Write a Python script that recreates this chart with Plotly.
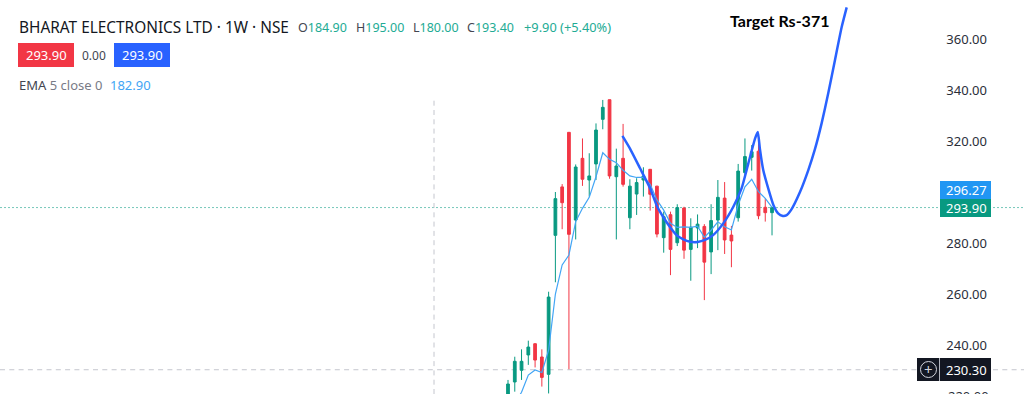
import plotly.graph_objects as go

# ---- data ----
candle_index = list(range(40))
opens = [220.5,225.5,230.1,236.1,240.5,235.3,228.5,283.0,302.0,323.4,289.0,313.2,304.7,311.0,328.5,336.2,306.0,313.2,289.9,299.2,
         304.7,308.9,302.3,282.1,291.1,280.1,293.7,277.5,285.9,286.5,276.5,289.0,297.6,283.1,289.9,307.6,313.6,316.0,294.0,291.9]
highs = [226.3,235.4,238.3,241.7,240.7,238.3,260.9,300.0,303.1,323.4,310.8,321.0,315.2,326.9,336.1,336.2,317.0,326.7,305.0,305.4,
         309.7,309.0,302.4,292.3,292.3,295.2,294.2,289.7,291.2,287.4,295.2,304.7,303.9,286.7,311.0,321.0,318.4,323.0,297.5,294.2]
lows = [218.0,221.7,226.3,232.2,231.2,223.7,221.0,264.6,285.4,230.5,281.4,302.4,298.2,304.7,324.6,305.2,281.4,302.1,285.4,291.0,
        298.2,292.7,282.2,276.2,267.4,278.8,273.8,265.2,278.0,257.6,267.8,277.2,275.7,270.5,288.4,306.7,308.4,289.3,288.4,283.0]
closes = [224.7,233.6,233.6,239.2,234.1,227.3,258.8,297.4,295.8,283.4,309.8,305.0,306.3,324.3,333.2,306.3,310.2,303.0,302.3,303.7,
          306.3,299.1,283.5,290.3,277.5,293.9,277.2,286.2,287.4,272.5,288.8,297.9,281.2,280.8,308.2,313.9,315.8,290.7,291.9,293.9]
ema_values = [214.0,217.0,221.5,228.2,230.2,229.2,238.0,260.0,271.4,275.3,288.4,293.6,297.9,306.0,315.4,312.8,311.5,308.5,306.3,305.7,
              305.7,303.0,296.9,292.9,287.7,286.1,286.3,286.1,286.6,282.2,285.0,288.3,286.4,285.1,294.9,302.0,305.0,300.1,297.5,294.0]
curve_index = [16.9,18.0,19.5,21.0,22.0,22.9,23.9,24.9,25.9,26.9,28.0,29.1,30.3,31.8,33.3,34.5,35.5,36.5,36.9,37.2,37.7,38.5,39.2,39.9,40.6,41.1,41.8,43.13,44.36,45.35,46.34,47.31,48.30,49.29,50.03]
curve_price = [322.0,317.1,309.3,301.4,294.5,290.3,286.4,283.1,281.4,280.5,280.4,281.2,283.1,287.7,294.3,301.4,311.2,321.0,323.5,317.1,308.6,300.8,294.9,291.6,290.6,290.8,292.9,300.0,308.6,316.9,327.1,338.8,351.8,364.7,372.4]
tick_values = [240,260,280,320,340,360]
tick_labels = ["240.00","260.00","280.00","320.00","340.00","360.00"]
last_close = 293.90
crosshair_price = 230.30
crosshair_index = -10.93

GREEN, RED, BLUE, EMA = "#089981", "#F23645", "#2962FF", "#42A5F5"
TEXT_GREEN = "#22AB94"
FONT = "Noto Sans"
W, H = 1024, 394
PLOT_W = 990
CROSS = dict(color="#C4C6CE", width=1, dash="5px,4.3px")
DOT = dict(color="rgba(8,153,129,0.55)", width=1, dash="2px,2px")

def px(x): return x / PLOT_W
def py(y): return 1 - y / H

fig = go.Figure()
fig.add_trace(go.Candlestick(
    x=candle_index, open=opens, high=highs, low=lows, close=closes,
    increasing=dict(line=dict(color=GREEN, width=1), fillcolor=GREEN),
    decreasing=dict(line=dict(color=RED, width=1), fillcolor=RED),
    whiskerwidth=0, showlegend=False, hoverinfo="skip"))
fig.add_trace(go.Scatter(x=candle_index, y=ema_values, mode="lines",
    line=dict(color=EMA, width=1.2), showlegend=False, hoverinfo="skip"))
fig.add_trace(go.Scatter(x=curve_index, y=curve_price, mode="lines",
    line=dict(color=BLUE, width=2.5, shape="spline", smoothing=0.5), showlegend=False, hoverinfo="skip"))

shapes = [
    dict(type="line", xref="paper", yref="y", x0=0, x1=px(940), y0=last_close, y1=last_close, line=DOT, layer="below"),
    dict(type="line", xref="paper", yref="y", x0=px(993), x1=px(1024), y0=last_close, y1=last_close, line=DOT, layer="below"),
    dict(type="line", xref="paper", yref="y", x0=0, x1=px(917), y0=crosshair_price, y1=crosshair_price, line=CROSS, layer="below"),
    dict(type="line", xref="paper", yref="y", x0=px(993), x1=px(1024), y0=crosshair_price, y1=crosshair_price, line=CROSS, layer="below"),
    dict(type="line", xref="x", yref="paper", x0=crosshair_index, x1=crosshair_index, y0=0, y1=py(100), line=CROSS, layer="below"),
    dict(type="rect", xref="paper", yref="paper", x0=px(940), x1=px(991), y0=py(199), y1=py(181),
         fillcolor="#2196F3", line_width=0),
    dict(type="rect", xref="paper", yref="paper", x0=px(940), x1=px(991), y0=py(217), y1=py(199),
         fillcolor=GREEN, line_width=0),
    dict(type="rect", xref="paper", yref="paper", x0=px(917), x1=px(991), y0=py(381), y1=py(358),
         fillcolor="#131722", line_width=0),
    dict(type="line", xref="paper", yref="paper", x0=px(939.5), x1=px(939.5), y0=py(381), y1=py(358),
         line=dict(color="#B2B5BE", width=1)),
    dict(type="circle", xref="paper", yref="paper", x0=px(920.5), x1=px(936.5), y0=py(377.5), y1=py(361.5),
         line=dict(color="#D1D4DC", width=1)),
    dict(type="rect", xref="paper", yref="paper", x0=px(18), x1=px(74), y0=py(67), y1=py(43),
         fillcolor=RED, line_width=0),
    dict(type="rect", xref="paper", yref="paper", x0=px(114), x1=px(170), y0=py(67), y1=py(43),
         fillcolor=BLUE, line_width=0),
]

def label(x, y, text, size, color="#131722", anchor="left", family=FONT):
    return dict(xref="paper", yref="paper", x=px(x), y=py(y), text=text, showarrow=False,
                xanchor=anchor, yanchor="middle", font=dict(family=family, size=size, color=color),
                borderpad=0, borderwidth=0)

def ohlc(name, value):
    return f'<span style="color:#434651">{name}</span>{value}'

annotations = [
    label(19, 27, "BHARAT ELECTRONICS LTD · 1W · NSE", 15.4),
    label(298, 27, ohlc("O", "184.90"), 12.5, TEXT_GREEN),
    label(356, 27, ohlc("H", "195.00"), 12.5, TEXT_GREEN),
    label(413, 27, ohlc("L", "180.00"), 12.5, TEXT_GREEN),
    label(467, 27, ohlc("C", "193.40"), 12.5, TEXT_GREEN),
    label(524, 27, "+9.90 (+5.40%)", 12.8, TEXT_GREEN),
    label(46, 55, "293.90", 13, "#FFFFFF", "center"),
    label(94, 55, "0.00", 12, "#434651", "center"),
    label(142, 55, "293.90", 13, "#FFFFFF", "center"),
    label(19, 85, 'EMA <span style="color:#787B86">5 close 0</span>', 13, "#434651"),
    label(110, 85, "182.90", 13, "#42A5F5"),
    label(779, 21, "<b>Target Rs-371</b>", 16, "#000000", "center", "Lato"),
    label(966, 190, "296.27", 13, "#FFFFFF", "center"),
    label(966, 208, "293.90", 13, "#FFFFFF", "center"),
    label(966, 370, "230.30", 13, "#FFFFFF", "center"),
    label(928.5, 369, "+", 15, "#D1D4DC", "center"),
    label(968, 396, "220.00", 13, "#2A2E39", "center"),
]

fig.update_layout(
    width=W, height=H, margin=dict(l=0, r=W - PLOT_W, t=0, b=0),
    paper_bgcolor="#FFFFFF", plot_bgcolor="#FFFFFF", boxgap=0.42, showlegend=False,
    shapes=shapes, annotations=annotations,
    xaxis=dict(range=[(0 - 508) / 6.77, (PLOT_W - 508) / 6.77], visible=False, rangeslider=dict(visible=False), fixedrange=True),
    yaxis=dict(range=[280 - (394 - 243) / 2.55, 280 + 243 / 2.55], side="right", ticklabelposition="inside",
               tickmode="array", tickvals=tick_values, ticktext=tick_labels, showgrid=False, zeroline=False,
               ticks="", showline=False, tickfont=dict(family=FONT, size=13, color="#2A2E39"), fixedrange=True),
)
fig.write_html("out.html", config=dict(displayModeBar=False), post_script="document.body.style.margin='0';document.documentElement.style.overflow='hidden';")
